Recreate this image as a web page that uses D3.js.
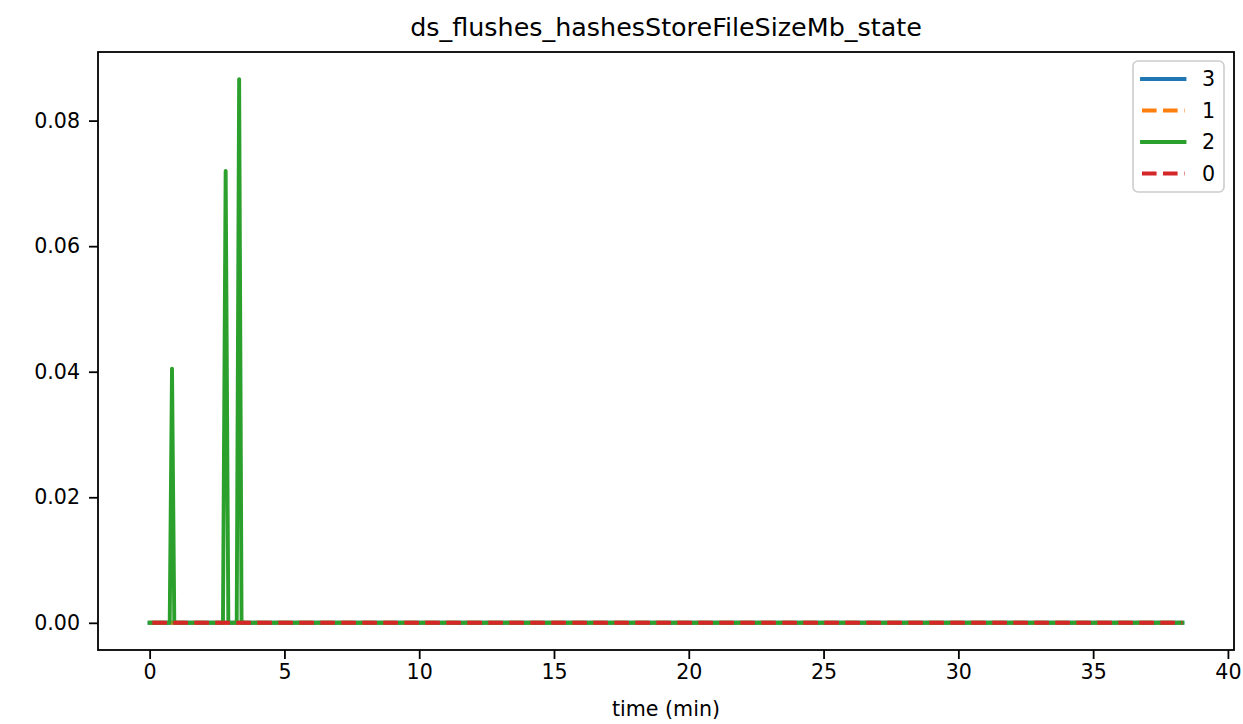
<!DOCTYPE html>
<html>
<head>
<meta charset="utf-8">
<script src="https://cdn.jsdelivr.net/npm/d3@7"></script>
<style>
  html, body { margin: 0; padding: 0; background: #fff; }
  svg { display: block; font-family: "DejaVu Sans", sans-serif; }
</style>
</head>
<body>
<svg id="chart" width="1243" height="724"></svg>
<script>
// ---- data ----
const seriesNames = ["3", "1", "2", "0"];
const seriesColors = ["#1f77b4", "#ff7f0e", "#2ca02c", "#d62728"];
const seriesDashed = [false, true, false, true];

const time3 = [0, 38.31];
const value3 = [0, 0];
const time1 = [0, 38.31];
const value1 = [0, 0];
const time2 = [0, 0.745, 0.83, 0.915, 2.72, 2.82, 2.92, 3.23, 3.32, 3.41, 38.31];
const value2 = [0, 0, 0.0405, 0, 0, 0.072, 0, 0, 0.0866, 0, 0];
const time0 = [0.1, 38.31];
const value0 = [0, 0];

const xTicks = [0, 5, 10, 15, 20, 25, 30, 35, 40];
const yTicks = [0, 0.02, 0.04, 0.06, 0.08];

const titleText = "ds_flushes_hashesStoreFileSizeMb_state";
const xLabelText = "time (min)";

// ---- layout ----
const svg = d3.select("#chart");
const L = 98, R = 1234, T = 52, B = 650;
const tickFont = "20.6px";

const series = [
  { name: seriesNames[0], t: time3, v: value3 },
  { name: seriesNames[1], t: time1, v: value1 },
  { name: seriesNames[2], t: time2, v: value2 },
  { name: seriesNames[3], t: time0, v: value0 }
];

const allT = series.flatMap(s => s.t);
const allV = series.flatMap(s => s.v);
const tMin = d3.min(allT), tMax = d3.max(allT);
const vMin = d3.min(allV), vMax = d3.max(allV);
const tPad = (tMax - tMin) * 0.05, vPad = (vMax - vMin) * 0.05;

const x = d3.scaleLinear().domain([tMin - tPad, tMax + tPad]).range([L, R]);
const y = d3.scaleLinear().domain([vMin - vPad, vMax + vPad]).range([B, T]);

// clipped plot group
svg.append("defs").append("clipPath").attr("id", "clip")
  .append("rect").attr("x", L).attr("y", T).attr("width", R - L).attr("height", B - T);

const plot = svg.append("g").attr("clip-path", "url(#clip)");
const line = d3.line().x(d => x(d[0])).y(d => y(d[1]));

series.forEach((s, i) => {
  const pts = s.t.map((t, k) => [t, s.v[k]]);
  plot.append("path")
    .attr("d", line(pts))
    .attr("fill", "none")
    .attr("stroke", seriesColors[i])
    .attr("stroke-width", 3.9)
    .attr("stroke-linejoin", "round")
    .attr("stroke-linecap", seriesDashed[i] ? "butt" : "square")
    .attr("stroke-dasharray", seriesDashed[i] ? "14.6,6.4" : null);
});

// axes
const xAxis = d3.axisBottom(x).tickValues(xTicks).tickFormat(d3.format("d")).tickSize(9).tickPadding(5);
const yAxis = d3.axisLeft(y).tickValues(yTicks).tickFormat(d3.format(".2f")).tickSize(9).tickPadding(9);

const gx = svg.append("g").attr("transform", `translate(0,${B})`).call(xAxis);
const gy = svg.append("g").attr("transform", `translate(${L},0)`).call(yAxis);
[gx, gy].forEach(g => {
  g.select(".domain").remove();
  g.selectAll(".tick line").attr("stroke", "#000").attr("stroke-width", 1.8);
  g.selectAll(".tick text").attr("fill", "#000").style("font-size", tickFont)
    .style("font-family", "'DejaVu Sans', sans-serif");
});

// spines
svg.append("rect").attr("x", L).attr("y", T).attr("width", R - L).attr("height", B - T)
  .attr("fill", "none").attr("stroke", "#000").attr("stroke-width", 1.8);

// title & labels
svg.append("text").attr("x", (L + R) / 2).attr("y", 36).attr("text-anchor", "middle")
  .style("font-size", "25.4px").text(titleText);
svg.append("text").attr("x", (L + R) / 2).attr("y", 716).attr("text-anchor", "middle")
  .style("font-size", tickFont).text(xLabelText);

// legend
const lg = svg.append("g");
lg.append("rect").attr("x", 1133).attr("y", 61).attr("width", 91).attr("height", 131)
  .attr("rx", 5).attr("fill", "#fff").attr("fill-opacity", 0.8)
  .attr("stroke", "#cccccc").attr("stroke-width", 1.6);
const rowY = [79, 110.5, 142, 173.5];
series.forEach((s, i) => {
  lg.append("line").attr("x1", 1142).attr("x2", 1184.5).attr("y1", rowY[i]).attr("y2", rowY[i])
    .attr("stroke", seriesColors[i]).attr("stroke-width", 3.9)
    .attr("stroke-linecap", seriesDashed[i] ? "butt" : "square")
    .attr("stroke-dasharray", seriesDashed[i] ? "14.6,6.4" : null);
  lg.append("text").attr("x", 1202).attr("y", rowY[i]).attr("dy", "0.36em")
    .style("font-size", tickFont).text(s.name);
});
</script>
</body>
</html>
